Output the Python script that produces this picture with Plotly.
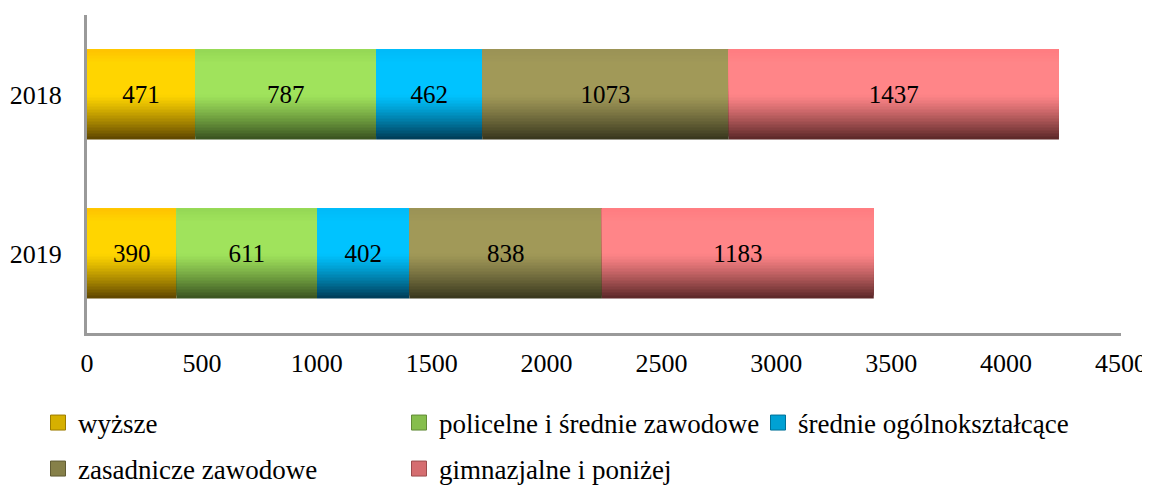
import plotly.graph_objects as go

YEARS = ["2018", "2019"]
SERIES = [
    "wyższe",
    "policelne i średnie zawodowe",
    "średnie ogólnokształcące",
    "zasadnicze zawodowe",
    "gimnazjalne i poniżej",
]
VALUES = {
    "wyższe": [471, 390],
    "policelne i średnie zawodowe": [787, 611],
    "średnie ogólnokształcące": [462, 402],
    "zasadnicze zawodowe": [1073, 838],
    "gimnazjalne i poniżej": [1437, 1183],
}
X_TICKS = [0, 500, 1000, 1500, 2000, 2500, 3000, 3500, 4000, 4500]

# (top, bright, dark) for the cylinder-like shading
SHADES = {
    "wyższe": ("#FFC200", "#FFD500", "#5C4300"),
    "policelne i średnie zawodowe": ("#94D755", "#A0E35C", "#38501F"),
    "średnie ogólnokształcące": ("#00BAF8", "#00C3FF", "#003A54"),
    "zasadnicze zawodowe": ("#9A9256", "#A19958", "#36341C"),
    "gimnazjalne i poniżej": ("#FF7C80", "#FF8588", "#582626"),
}
LEGEND_POS = [(30, 415), (391, 415), (750, 415), (30, 461), (391, 461)]

# the page body adds an 8px offset, so the figure is drawn 8px smaller
W, H = 1142, 477
FONT = "Liberation Serif"
AXIS = "#9a9a9a"
BAR_W = 0.566
N_STRIPES = 30


def hex_rgb(h):
    h = h.lstrip("#")
    return [int(h[i:i + 2], 16) for i in (0, 2, 4)]


def mix(a, b, t):
    ca, cb = hex_rgb(a), hex_rgb(b)
    return "rgb({},{},{})".format(*[round(x + (y - x) * t) for x, y in zip(ca, cb)])


def shade(top, bright, dark, t):
    # t = 0 at top edge, 1 at bottom edge
    if t < 0.15:
        return mix(top, bright, t / 0.15)
    if t < 0.5:
        return mix(bright, bright, 0)
    return mix(bright, dark, ((t - 0.5) / 0.5) ** 1.2)


fig = go.Figure()

bases = [0, 0]
step = BAR_W / N_STRIPES
for k, name in enumerate(SERIES):
    vals = VALUES[name]
    top, bright, dark = SHADES[name]
    legend_id = "legend" if k == 0 else f"legend{k + 1}"
    # each stripe runs from its own lower edge up to the bar top,
    # later (higher) stripes paint over the earlier ones
    for i in range(N_STRIPES):
        t = 1 - (i + 0.5) / N_STRIPES
        fig.add_trace(
            go.Bar(
                y=YEARS,
                x=vals,
                base=list(bases),
                orientation="h",
                offset=-BAR_W / 2 + i * step,
                width=BAR_W - i * step,
                marker={"color": shade(top, bright, dark, t), "line": {"width": 0}},
                name=name,
                showlegend=False,
                hoverinfo="skip",
            )
        )
    fig.add_trace(
        go.Bar(
            y=YEARS,
            x=vals,
            base=list(bases),
            orientation="h",
            width=BAR_W,
            marker={"color": "rgba(0,0,0,0)", "line": {"width": 0}},
            text=[str(v) for v in vals],
            textposition="inside",
            insidetextanchor="middle",
            textfont={"color": "black", "size": 25, "family": FONT},
            showlegend=False,
            name=name,
            hovertemplate="%{y}: %{x}<extra>" + name + "</extra>",
        )
    )
    # legend-only entry with a bigger square swatch
    fig.add_trace(
        go.Scatter(
            x=[None],
            y=[None],
            mode="markers",
            marker={
                "symbol": "square",
                "size": 15,
                "color": mix(bright, dark, 0.25),
                "line": {"color": mix(bright, dark, 0.6), "width": 1},
            },
            name=name,
            legend=legend_id,
            hoverinfo="skip",
        )
    )
    bases = [b + v for b, v in zip(bases, vals)]

layout_legends = {}
for k, (px, py) in enumerate(LEGEND_POS):
    key = "legend" if k == 0 else f"legend{k + 1}"
    layout_legends[key] = {
        "x": px / W,
        "y": 1 - py / H,
        "xref": "container",
        "yref": "container",
        "xanchor": "left",
        "yanchor": "middle",
        "orientation": "h",
        "itemsizing": "trace",
        "bgcolor": "rgba(0,0,0,0)",
        "font": {"size": 27, "family": FONT, "color": "black"},
    }

fig.update_layout(
    width=W,
    height=H,
    margin={"l": 79, "r": 29, "t": 7, "b": 152, "autoexpand": False},
    paper_bgcolor="white",
    plot_bgcolor="white",
    barmode="overlay",
    font={"family": FONT, "color": "black"},
    xaxis={
        "range": [0, 4500],
        "tickvals": X_TICKS,
        "showgrid": False,
        "zeroline": False,
        "showline": True,
        "linecolor": AXIS,
        "linewidth": 3,
        "ticks": "",
        "ticklabelstandoff": 5,
        "tickfont": {"size": 26, "family": FONT, "color": "black"},
        "automargin": False,
        "fixedrange": True,
    },
    yaxis={
        "type": "category",
        "categoryorder": "array",
        "categoryarray": ["2019", "2018"],
        "showgrid": False,
        "zeroline": False,
        "showline": True,
        "linecolor": AXIS,
        "linewidth": 3,
        "ticks": "",
        "ticklabelstandoff": 17,
        "tickfont": {"size": 26, "family": FONT, "color": "black"},
        "automargin": False,
        "fixedrange": True,
    },
    **layout_legends,
)

fig.write_html("out.html")
